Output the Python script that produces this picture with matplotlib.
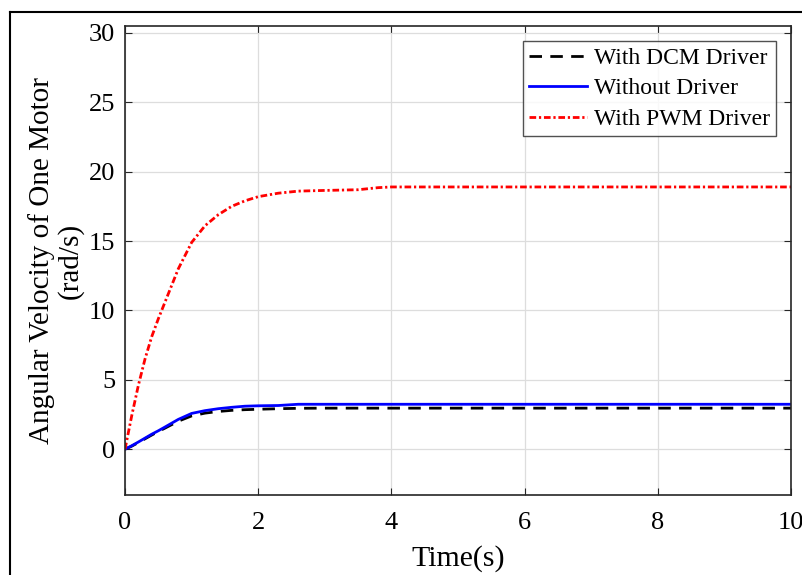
import matplotlib
matplotlib.use("Agg")
import matplotlib.pyplot as plt
from matplotlib.lines import Line2D

# values
time = [0, 0.1, 0.2, 0.3, 0.4, 0.5, 0.6, 0.8, 1.0, 1.2, 1.4, 1.6, 1.8, 2.0,
        2.3, 2.6, 3.0, 3.5, 3.8, 4.0, 5.0, 6.0, 8.0, 10.0]
dcm_driver = [0, 0.22, 0.48, 0.75, 1.02, 1.28, 1.52, 2.02, 2.4, 2.6, 2.72, 2.8,
              2.85, 2.88, 2.92, 2.95, 2.96, 2.96, 2.96, 2.96, 2.96, 2.96, 2.96, 2.96]
no_driver = [0, 0.25, 0.52, 0.8, 1.08, 1.33, 1.6, 2.15, 2.58, 2.78, 2.92, 3.02,
             3.1, 3.13, 3.15, 3.24, 3.24, 3.24, 3.24, 3.24, 3.24, 3.24, 3.24, 3.24]
pwm_driver = [0, 2.4, 4.6, 6.5, 8.1, 9.4, 10.6, 13.0, 14.9, 16.1, 16.9, 17.5,
              17.9, 18.2, 18.45, 18.6, 18.65, 18.7, 18.85, 18.9, 18.9, 18.9, 18.9, 18.9]

x_ticks = [0, 2, 4, 6, 8, 10]
y_ticks = [0, 5, 10, 15, 20, 25, 30]

plt.rcParams["font.family"] = ["Liberation Serif", "DejaVu Serif"]

fig = plt.figure(figsize=(8.03, 5.75), dpi=100)
ax = fig.add_axes([0.1557, 0.1391, 0.8294, 0.8157])

ax.plot(time, dcm_driver, color="black", linestyle=(0, (4.5, 3)), linewidth=2,
        label="With DCM Driver")
ax.plot(time, no_driver, color="#0000ff", linestyle="-", linewidth=2,
        label="Without Driver")
ax.plot(time, pwm_driver, color="#ff0000", linestyle=(0, (2.4, 1, 0.8, 1)),
        linewidth=2, label="With PWM Driver")

ax.set_xlim(0, 10)
ax.set_ylim(-3.3, 30.5)
ax.set_xticks(x_ticks)
ax.set_yticks(y_ticks)
ax.grid(True, color="#dddddd", linewidth=0.9)
ax.set_axisbelow(True)
ax.tick_params(direction="in", top=True, right=True, labelsize=19,
               length=5, color="#262626")
ax.tick_params(axis="x", pad=12)
ax.tick_params(axis="y", pad=7)
for sp in ax.spines.values():
    sp.set_color("#262626")
    sp.set_linewidth(1.2)

ax.set_xlabel("Time(s)", fontsize=21.5, labelpad=8)
ax.set_ylabel("Angular Velocity of One Motor\n(rad/s)", fontsize=21,
              labelpad=4, linespacing=1.08)

leg = ax.legend(loc="upper right", fontsize=17, frameon=True, fancybox=False,
                edgecolor="#262626", handlelength=2.45, handletextpad=0.3,
                borderpad=0.25, labelspacing=0.38, borderaxespad=0.65)
leg.get_frame().set_linewidth(1.0)

# outer frame around the figure (only left and top visible)
fig.add_artist(Line2D([10 / 803, 10 / 803], [1 - 12 / 575, 0], transform=fig.transFigure,
                      color="black", linewidth=1.5))
fig.add_artist(Line2D([10 / 803, 1], [1 - 12 / 575, 1 - 12 / 575], transform=fig.transFigure,
                      color="black", linewidth=1.5))

fig.savefig("out.png", dpi=100)
